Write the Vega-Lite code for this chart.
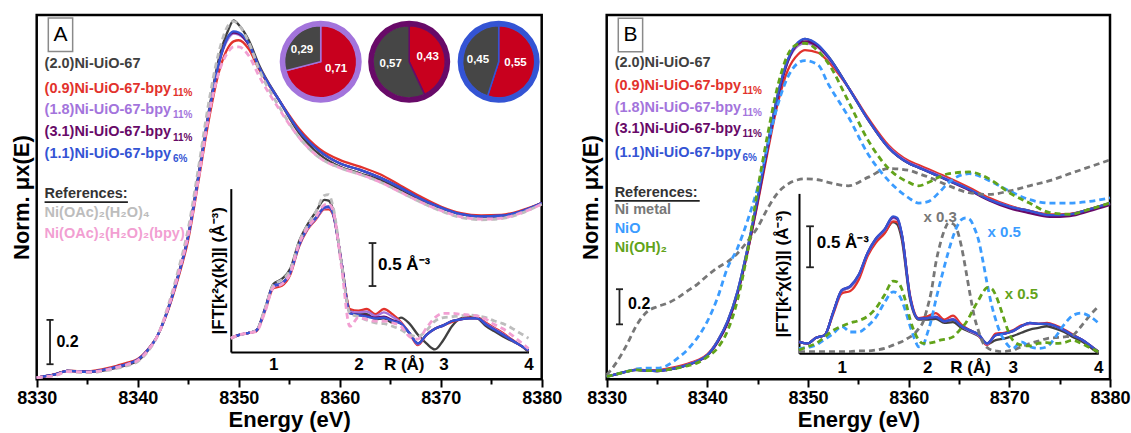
{
"$schema":"https://vega.github.io/schema/vega-lite/v6.json",
"width":1131,"height":433,"autosize":"none","padding":0,
"config":{"view":{"stroke":null},"font":"Liberation Sans","text":{"font":"Liberation Sans"}},
"datasets":{
"frameA":[{"x1":8330,"x2":8380,"y1":0,"y2":1.644}],
"frameB":[{"x1":8330,"x2":8380,"y1":0,"y2":2.1085}],
"boxA":[{"x1":8331.15,"x2":8333.56,"y1":1.479,"y2":1.63,"t":"A","xc":8332.35,"yc":1.555}],
"boxB":[{"x1":8331.15,"x2":8333.57,"y1":1.8953,"y2":2.0895,"t":"B","xc":8332.36,"yc":1.992}],
"mainA":[
{"E":8330,"k":0.008,"r":0.008,"lp":0.008,"dp":0.008,"b":0.008,"g":0.008,"p":0.008},
{"E":8331,"k":0.015,"r":0.015,"lp":0.015,"dp":0.015,"b":0.015,"g":0.012,"p":0.012},
{"E":8332,"k":0.025,"r":0.026,"lp":0.025,"dp":0.025,"b":0.025,"g":0.02,"p":0.02},
{"E":8333,"k":0.038,"r":0.038,"lp":0.038,"dp":0.038,"b":0.038,"g":0.035,"p":0.035},
{"E":8334,"k":0.036,"r":0.037,"lp":0.036,"dp":0.036,"b":0.036,"g":0.032,"p":0.034},
{"E":8335,"k":0.033,"r":0.036,"lp":0.034,"dp":0.034,"b":0.034,"g":0.03,"p":0.032},
{"E":8336,"k":0.036,"r":0.041,"lp":0.038,"dp":0.038,"b":0.038,"g":0.033,"p":0.036},
{"E":8337,"k":0.043,"r":0.05,"lp":0.046,"dp":0.046,"b":0.046,"g":0.04,"p":0.044},
{"E":8338,"k":0.053,"r":0.062,"lp":0.057,"dp":0.057,"b":0.057,"g":0.05,"p":0.055},
{"E":8339,"k":0.065,"r":0.075,"lp":0.07,"dp":0.07,"b":0.07,"g":0.062,"p":0.068},
{"E":8340,"k":0.083,"r":0.092,"lp":0.088,"dp":0.088,"b":0.088,"g":0.08,"p":0.085},
{"E":8341,"k":0.13,"r":0.135,"lp":0.132,"dp":0.132,"b":0.132,"g":0.125,"p":0.13},
{"E":8342,"k":0.2,"r":0.2,"lp":0.2,"dp":0.2,"b":0.2,"g":0.2,"p":0.2},
{"E":8343,"k":0.32,"r":0.31,"lp":0.315,"dp":0.315,"b":0.315,"g":0.33,"p":0.32},
{"E":8344,"k":0.47,"r":0.455,"lp":0.465,"dp":0.465,"b":0.465,"g":0.49,"p":0.47},
{"E":8345,"k":0.65,"r":0.63,"lp":0.645,"dp":0.645,"b":0.645,"g":0.68,"p":0.65},
{"E":8346,"k":0.92,"r":0.89,"lp":0.91,"dp":0.91,"b":0.91,"g":0.95,"p":0.9},
{"E":8347,"k":1.2,"r":1.16,"lp":1.19,"dp":1.19,"b":1.19,"g":1.24,"p":1.18},
{"E":8348,"k":1.44,"r":1.38,"lp":1.42,"dp":1.42,"b":1.42,"g":1.47,"p":1.38},
{"E":8349,"k":1.58,"r":1.5,"lp":1.54,"dp":1.55,"b":1.55,"g":1.6,"p":1.48},
{"E":8349.5,"k":1.62,"r":1.525,"lp":1.56,"dp":1.565,"b":1.57,"g":1.615,"p":1.5},
{"E":8350,"k":1.6,"r":1.53,"lp":1.555,"dp":1.56,"b":1.565,"g":1.6,"p":1.5},
{"E":8351,"k":1.53,"r":1.49,"lp":1.51,"dp":1.51,"b":1.515,"g":1.52,"p":1.46},
{"E":8352,"k":1.42,"r":1.4,"lp":1.41,"dp":1.41,"b":1.41,"g":1.4,"p":1.37},
{"E":8354,"k":1.26,"r":1.26,"lp":1.26,"dp":1.26,"b":1.26,"g":1.23,"p":1.22},
{"E":8356,"k":1.11,"r":1.13,"lp":1.12,"dp":1.12,"b":1.12,"g":1.09,"p":1.09},
{"E":8358,"k":1.015,"r":1.04,"lp":1.03,"dp":1.03,"b":1.03,"g":1.0,"p":1.0},
{"E":8360,"k":0.96,"r":0.99,"lp":0.975,"dp":0.975,"b":0.975,"g":0.955,"p":0.955},
{"E":8362,"k":0.93,"r":0.96,"lp":0.945,"dp":0.945,"b":0.945,"g":0.925,"p":0.925},
{"E":8364,"k":0.9,"r":0.925,"lp":0.91,"dp":0.91,"b":0.91,"g":0.89,"p":0.89},
{"E":8366,"k":0.856,"r":0.875,"lp":0.865,"dp":0.865,"b":0.865,"g":0.845,"p":0.845},
{"E":8368,"k":0.81,"r":0.825,"lp":0.815,"dp":0.815,"b":0.815,"g":0.8,"p":0.8},
{"E":8370,"k":0.773,"r":0.78,"lp":0.775,"dp":0.775,"b":0.775,"g":0.76,"p":0.762},
{"E":8372,"k":0.745,"r":0.75,"lp":0.745,"dp":0.745,"b":0.745,"g":0.73,"p":0.733},
{"E":8374,"k":0.735,"r":0.74,"lp":0.735,"dp":0.735,"b":0.735,"g":0.72,"p":0.723},
{"E":8376,"k":0.738,"r":0.742,"lp":0.738,"dp":0.738,"b":0.738,"g":0.725,"p":0.727},
{"E":8378,"k":0.758,"r":0.762,"lp":0.758,"dp":0.758,"b":0.758,"g":0.75,"p":0.752},
{"E":8380,"k":0.795,"r":0.795,"lp":0.795,"dp":0.795,"b":0.795,"g":0.79,"p":0.79}
],
"insA":[
{"R":0.5,"k":0.16,"r":0.16,"lp":0.16,"dp":0.16,"b":0.16,"g":0.16,"p":0.16},
{"R":0.6,"k":0.2,"r":0.2,"lp":0.2,"dp":0.2,"b":0.2,"g":0.2,"p":0.2},
{"R":0.7,"k":0.22,"r":0.22,"lp":0.22,"dp":0.22,"b":0.22,"g":0.22,"p":0.22},
{"R":0.8,"k":0.25,"r":0.24,"lp":0.245,"dp":0.25,"b":0.25,"g":0.25,"p":0.24},
{"R":0.9,"k":0.5,"r":0.47,"lp":0.48,"dp":0.49,"b":0.49,"g":0.5,"p":0.46},
{"R":1.0,"k":0.79,"r":0.74,"lp":0.76,"dp":0.77,"b":0.77,"g":0.78,"p":0.75},
{"R":1.1,"k":0.85,"r":0.77,"lp":0.79,"dp":0.8,"b":0.8,"g":0.84,"p":0.79},
{"R":1.2,"k":0.97,"r":0.9,"lp":0.92,"dp":0.93,"b":0.93,"g":0.96,"p":0.92},
{"R":1.3,"k":1.28,"r":1.22,"lp":1.23,"dp":1.24,"b":1.24,"g":1.27,"p":1.25},
{"R":1.4,"k":1.48,"r":1.42,"lp":1.43,"dp":1.44,"b":1.44,"g":1.47,"p":1.44},
{"R":1.5,"k":1.63,"r":1.54,"lp":1.55,"dp":1.56,"b":1.56,"g":1.63,"p":1.57},
{"R":1.6,"k":1.77,"r":1.66,"lp":1.67,"dp":1.68,"b":1.68,"g":1.82,"p":1.71},
{"R":1.65,"k":1.76,"r":1.66,"lp":1.68,"dp":1.69,"b":1.69,"g":1.83,"p":1.72},
{"R":1.7,"k":1.66,"r":1.6,"lp":1.61,"dp":1.62,"b":1.62,"g":1.7,"p":1.65},
{"R":1.8,"k":1.05,"r":1.05,"lp":1.05,"dp":1.05,"b":1.05,"g":1.05,"p":1.0},
{"R":1.9,"k":0.48,"r":0.5,"lp":0.47,"dp":0.45,"b":0.45,"g":0.45,"p":0.3},
{"R":2.0,"k":0.44,"r":0.48,"lp":0.46,"dp":0.43,"b":0.43,"g":0.41,"p":0.4},
{"R":2.1,"k":0.44,"r":0.5,"lp":0.47,"dp":0.42,"b":0.41,"g":0.37,"p":0.38},
{"R":2.2,"k":0.38,"r":0.44,"lp":0.42,"dp":0.4,"b":0.39,"g":0.34,"p":0.36},
{"R":2.3,"k":0.39,"r":0.5,"lp":0.46,"dp":0.41,"b":0.4,"g":0.33,"p":0.36},
{"R":2.4,"k":0.34,"r":0.44,"lp":0.41,"dp":0.37,"b":0.36,"g":0.3,"p":0.34},
{"R":2.5,"k":0.4,"r":0.35,"lp":0.34,"dp":0.33,"b":0.33,"g":0.26,"p":0.3},
{"R":2.6,"k":0.33,"r":0.22,"lp":0.22,"dp":0.22,"b":0.22,"g":0.2,"p":0.18},
{"R":2.7,"k":0.2,"r":0.08,"lp":0.09,"dp":0.1,"b":0.1,"g":0.18,"p":0.15},
{"R":2.8,"k":0.1,"r":0.2,"lp":0.2,"dp":0.2,"b":0.2,"g":0.25,"p":0.28},
{"R":2.9,"k":0.03,"r":0.27,"lp":0.27,"dp":0.27,"b":0.27,"g":0.36,"p":0.4},
{"R":3.0,"k":0.14,"r":0.31,"lp":0.31,"dp":0.31,"b":0.31,"g":0.4,"p":0.45},
{"R":3.1,"k":0.3,"r":0.35,"lp":0.36,"dp":0.36,"b":0.36,"g":0.41,"p":0.45},
{"R":3.2,"k":0.39,"r":0.38,"lp":0.38,"dp":0.38,"b":0.38,"g":0.42,"p":0.44},
{"R":3.3,"k":0.41,"r":0.4,"lp":0.39,"dp":0.39,"b":0.39,"g":0.43,"p":0.43},
{"R":3.4,"k":0.39,"r":0.4,"lp":0.39,"dp":0.39,"b":0.39,"g":0.42,"p":0.42},
{"R":3.5,"k":0.3,"r":0.34,"lp":0.33,"dp":0.32,"b":0.32,"g":0.4,"p":0.38},
{"R":3.6,"k":0.24,"r":0.28,"lp":0.27,"dp":0.26,"b":0.26,"g":0.36,"p":0.32},
{"R":3.7,"k":0.18,"r":0.22,"lp":0.21,"dp":0.2,"b":0.2,"g":0.33,"p":0.27},
{"R":3.8,"k":0.13,"r":0.15,"lp":0.14,"dp":0.14,"b":0.14,"g":0.28,"p":0.2},
{"R":3.9,"k":0.08,"r":0.08,"lp":0.08,"dp":0.08,"b":0.08,"g":0.22,"p":0.12},
{"R":4.0,"k":0.0,"r":0.02,"lp":0.02,"dp":0.02,"b":0.02,"g":0.16,"p":0.04}
],
"mainB":[
{"E":8330,"k":0.016,"r":0.016,"lp":0.016,"dp":0.016,"b":0.016,"m":0.025,"n":0.016,"o":0.016},
{"E":8331,"k":0.03,"r":0.03,"lp":0.03,"dp":0.03,"b":0.03,"m":0.1,"n":0.03,"o":0.03},
{"E":8332,"k":0.045,"r":0.045,"lp":0.045,"dp":0.045,"b":0.045,"m":0.2,"n":0.045,"o":0.045},
{"E":8333,"k":0.054,"r":0.056,"lp":0.054,"dp":0.054,"b":0.054,"m":0.316,"n":0.06,"o":0.054},
{"E":8334,"k":0.05,"r":0.053,"lp":0.05,"dp":0.05,"b":0.05,"m":0.39,"n":0.064,"o":0.05},
{"E":8335,"k":0.048,"r":0.053,"lp":0.049,"dp":0.048,"b":0.048,"m":0.42,"n":0.064,"o":0.05},
{"E":8336,"k":0.055,"r":0.062,"lp":0.056,"dp":0.055,"b":0.055,"m":0.44,"n":0.08,"o":0.055},
{"E":8337,"k":0.066,"r":0.074,"lp":0.067,"dp":0.066,"b":0.066,"m":0.47,"n":0.12,"o":0.064},
{"E":8338,"k":0.083,"r":0.09,"lp":0.084,"dp":0.082,"b":0.083,"m":0.51,"n":0.17,"o":0.078},
{"E":8339,"k":0.105,"r":0.11,"lp":0.105,"dp":0.103,"b":0.105,"m":0.55,"n":0.24,"o":0.095},
{"E":8340,"k":0.14,"r":0.145,"lp":0.14,"dp":0.137,"b":0.14,"m":0.6,"n":0.335,"o":0.13},
{"E":8341,"k":0.22,"r":0.22,"lp":0.218,"dp":0.212,"b":0.22,"m":0.645,"n":0.47,"o":0.18},
{"E":8342,"k":0.335,"r":0.33,"lp":0.33,"dp":0.322,"b":0.335,"m":0.68,"n":0.645,"o":0.28},
{"E":8343,"k":0.51,"r":0.5,"lp":0.505,"dp":0.495,"b":0.51,"m":0.73,"n":0.76,"o":0.46},
{"E":8344,"k":0.76,"r":0.74,"lp":0.755,"dp":0.74,"b":0.76,"m":0.8,"n":0.92,"o":0.74},
{"E":8345,"k":1.05,"r":1.02,"lp":1.04,"dp":1.03,"b":1.05,"m":0.88,"n":1.11,"o":1.1},
{"E":8346,"k":1.36,"r":1.32,"lp":1.35,"dp":1.34,"b":1.36,"m":0.99,"n":1.36,"o":1.42},
{"E":8347,"k":1.65,"r":1.6,"lp":1.64,"dp":1.63,"b":1.65,"m":1.08,"n":1.59,"o":1.7},
{"E":8348,"k":1.85,"r":1.79,"lp":1.84,"dp":1.84,"b":1.85,"m":1.13,"n":1.75,"o":1.88},
{"E":8349,"k":1.94,"r":1.88,"lp":1.93,"dp":1.94,"b":1.95,"m":1.155,"n":1.83,"o":1.94},
{"E":8349.7,"k":1.97,"r":1.905,"lp":1.945,"dp":1.955,"b":1.97,"m":1.16,"n":1.845,"o":1.945},
{"E":8351,"k":1.93,"r":1.89,"lp":1.92,"dp":1.925,"b":1.935,"m":1.155,"n":1.82,"o":1.9},
{"E":8352,"k":1.87,"r":1.84,"lp":1.86,"dp":1.865,"b":1.87,"m":1.14,"n":1.71,"o":1.83},
{"E":8354,"k":1.69,"r":1.69,"lp":1.69,"dp":1.69,"b":1.69,"m":1.12,"n":1.52,"o":1.61},
{"E":8356,"k":1.5,"r":1.51,"lp":1.5,"dp":1.5,"b":1.5,"m":1.17,"n":1.3,"o":1.38},
{"E":8358,"k":1.34,"r":1.355,"lp":1.345,"dp":1.34,"b":1.34,"m":1.22,"n":1.15,"o":1.22},
{"E":8360,"k":1.25,"r":1.265,"lp":1.255,"dp":1.25,"b":1.25,"m":1.21,"n":1.05,"o":1.14},
{"E":8361,"k":1.225,"r":1.24,"lp":1.23,"dp":1.225,"b":1.225,"m":1.19,"n":1.02,"o":1.12},
{"E":8362,"k":1.2,"r":1.215,"lp":1.205,"dp":1.2,"b":1.2,"m":1.17,"n":1.03,"o":1.14},
{"E":8363,"k":1.175,"r":1.19,"lp":1.18,"dp":1.175,"b":1.175,"m":1.145,"n":1.08,"o":1.17},
{"E":8364,"k":1.15,"r":1.165,"lp":1.155,"dp":1.148,"b":1.15,"m":1.12,"n":1.14,"o":1.19},
{"E":8366,"k":1.1,"r":1.11,"lp":1.1,"dp":1.095,"b":1.1,"m":1.08,"n":1.19,"o":1.2},
{"E":8368,"k":1.04,"r":1.05,"lp":1.04,"dp":1.035,"b":1.04,"m":1.07,"n":1.15,"o":1.16},
{"E":8370,"k":1.0,"r":1.005,"lp":1.0,"dp":0.99,"b":1.0,"m":1.09,"n":1.09,"o":1.08},
{"E":8372,"k":0.975,"r":0.975,"lp":0.972,"dp":0.962,"b":0.975,"m":1.12,"n":1.04,"o":1.02},
{"E":8374,"k":0.95,"r":0.955,"lp":0.948,"dp":0.94,"b":0.95,"m":1.15,"n":1.02,"o":0.965},
{"E":8376,"k":0.955,"r":0.958,"lp":0.952,"dp":0.945,"b":0.955,"m":1.19,"n":1.02,"o":0.955},
{"E":8378,"k":0.985,"r":0.985,"lp":0.98,"dp":0.975,"b":0.985,"m":1.23,"n":1.03,"o":0.985},
{"E":8380,"k":1.02,"r":1.02,"lp":1.015,"dp":1.01,"b":1.02,"m":1.27,"n":1.05,"o":1.02}
],
"insBs":[
{"R":0.5,"k":0.14,"r":0.14,"lp":0.14,"dp":0.14,"b":0.14},
{"R":0.6,"k":0.12,"r":0.12,"lp":0.12,"dp":0.12,"b":0.12},
{"R":0.7,"k":0.19,"r":0.19,"lp":0.19,"dp":0.19,"b":0.19},
{"R":0.8,"k":0.22,"r":0.22,"lp":0.22,"dp":0.22,"b":0.22},
{"R":0.9,"k":0.5,"r":0.48,"lp":0.5,"dp":0.5,"b":0.5},
{"R":1.0,"k":0.76,"r":0.73,"lp":0.76,"dp":0.77,"b":0.77},
{"R":1.1,"k":0.81,"r":0.76,"lp":0.81,"dp":0.82,"b":0.82},
{"R":1.2,"k":0.94,"r":0.9,"lp":0.95,"dp":0.96,"b":0.96},
{"R":1.3,"k":1.2,"r":1.18,"lp":1.21,"dp":1.22,"b":1.22},
{"R":1.4,"k":1.37,"r":1.35,"lp":1.39,"dp":1.4,"b":1.4},
{"R":1.5,"k":1.47,"r":1.46,"lp":1.5,"dp":1.51,"b":1.51},
{"R":1.6,"k":1.6,"r":1.61,"lp":1.65,"dp":1.66,"b":1.67},
{"R":1.65,"k":1.57,"r":1.6,"lp":1.63,"dp":1.64,"b":1.65},
{"R":1.7,"k":1.4,"r":1.45,"lp":1.46,"dp":1.46,"b":1.47},
{"R":1.8,"k":0.65,"r":0.7,"lp":0.68,"dp":0.68,"b":0.68},
{"R":1.9,"k":0.41,"r":0.43,"lp":0.42,"dp":0.42,"b":0.42},
{"R":2.0,"k":0.41,"r":0.45,"lp":0.43,"dp":0.43,"b":0.43},
{"R":2.1,"k":0.42,"r":0.49,"lp":0.45,"dp":0.44,"b":0.44},
{"R":2.2,"k":0.37,"r":0.41,"lp":0.39,"dp":0.39,"b":0.39},
{"R":2.3,"k":0.38,"r":0.46,"lp":0.42,"dp":0.41,"b":0.41},
{"R":2.4,"k":0.31,"r":0.35,"lp":0.33,"dp":0.33,"b":0.33},
{"R":2.5,"k":0.26,"r":0.28,"lp":0.27,"dp":0.28,"b":0.28},
{"R":2.6,"k":0.21,"r":0.22,"lp":0.22,"dp":0.23,"b":0.23},
{"R":2.7,"k":0.11,"r":0.1,"lp":0.11,"dp":0.12,"b":0.12},
{"R":2.8,"k":0.16,"r":0.24,"lp":0.22,"dp":0.22,"b":0.22},
{"R":2.9,"k":0.18,"r":0.25,"lp":0.24,"dp":0.24,"b":0.24},
{"R":3.0,"k":0.21,"r":0.28,"lp":0.27,"dp":0.27,"b":0.27},
{"R":3.1,"k":0.25,"r":0.34,"lp":0.33,"dp":0.33,"b":0.33},
{"R":3.2,"k":0.29,"r":0.36,"lp":0.36,"dp":0.37,"b":0.37},
{"R":3.3,"k":0.31,"r":0.36,"lp":0.36,"dp":0.36,"b":0.36},
{"R":3.4,"k":0.33,"r":0.37,"lp":0.36,"dp":0.36,"b":0.36},
{"R":3.5,"k":0.3,"r":0.34,"lp":0.33,"dp":0.33,"b":0.33},
{"R":3.6,"k":0.26,"r":0.29,"lp":0.28,"dp":0.28,"b":0.28},
{"R":3.7,"k":0.2,"r":0.23,"lp":0.22,"dp":0.22,"b":0.22},
{"R":3.8,"k":0.15,"r":0.17,"lp":0.17,"dp":0.17,"b":0.17},
{"R":3.9,"k":0.08,"r":0.1,"lp":0.1,"dp":0.1,"b":0.1},
{"R":4.0,"k":0.0,"r":0.02,"lp":0.02,"dp":0.02,"b":0.02}
],
"insBr":[
{"R":0.5,"m":0.02,"n":0.06,"o":0.04},
{"R":0.6,"m":0.02,"n":0.07,"o":0.08},
{"R":0.7,"m":0.02,"n":0.1,"o":0.12},
{"R":0.8,"m":0.02,"n":0.17,"o":0.2},
{"R":0.9,"m":0.02,"n":0.24,"o":0.28},
{"R":1.0,"m":0.02,"n":0.33,"o":0.33},
{"R":1.1,"m":0.02,"n":0.26,"o":0.37},
{"R":1.2,"m":0.03,"n":0.26,"o":0.4},
{"R":1.3,"m":0.03,"n":0.33,"o":0.45},
{"R":1.4,"m":0.04,"n":0.44,"o":0.55},
{"R":1.5,"m":0.06,"n":0.62,"o":0.71},
{"R":1.6,"m":0.1,"n":0.75,"o":0.88},
{"R":1.65,"m":0.12,"n":0.73,"o":0.87},
{"R":1.7,"m":0.14,"n":0.65,"o":0.79},
{"R":1.75,"m":0.17,"n":0.5,"o":0.62},
{"R":1.8,"m":0.2,"n":0.33,"o":0.41},
{"R":1.85,"m":0.24,"n":0.18,"o":0.26},
{"R":1.9,"m":0.3,"n":0.08,"o":0.16},
{"R":1.95,"m":0.38,"n":0.1,"o":0.12},
{"R":2.0,"m":0.55,"n":0.24,"o":0.12},
{"R":2.05,"m":0.77,"n":0.42,"o":0.13},
{"R":2.1,"m":1.1,"n":0.65,"o":0.14},
{"R":2.15,"m":1.33,"n":0.86,"o":0.16},
{"R":2.2,"m":1.5,"n":1.06,"o":0.17},
{"R":2.25,"m":1.59,"n":1.25,"o":0.18},
{"R":2.3,"m":1.58,"n":1.42,"o":0.2},
{"R":2.35,"m":1.5,"n":1.55,"o":0.25},
{"R":2.4,"m":1.3,"n":1.63,"o":0.31},
{"R":2.45,"m":1.02,"n":1.65,"o":0.37},
{"R":2.5,"m":0.72,"n":1.63,"o":0.46},
{"R":2.55,"m":0.45,"n":1.53,"o":0.56},
{"R":2.6,"m":0.27,"n":1.38,"o":0.65},
{"R":2.65,"m":0.13,"n":1.13,"o":0.74},
{"R":2.7,"m":0.07,"n":0.85,"o":0.8},
{"R":2.75,"m":0.04,"n":0.6,"o":0.79},
{"R":2.8,"m":0.03,"n":0.41,"o":0.71},
{"R":2.85,"m":0.02,"n":0.26,"o":0.57},
{"R":2.9,"m":0.02,"n":0.16,"o":0.41},
{"R":2.95,"m":0.03,"n":0.09,"o":0.26},
{"R":3.0,"m":0.04,"n":0.06,"o":0.16},
{"R":3.1,"m":0.08,"n":0.14,"o":0.1},
{"R":3.2,"m":0.12,"n":0.08,"o":0.09},
{"R":3.3,"m":0.15,"n":0.06,"o":0.12},
{"R":3.4,"m":0.18,"n":0.08,"o":0.13},
{"R":3.5,"m":0.19,"n":0.2,"o":0.12},
{"R":3.6,"m":0.2,"n":0.35,"o":0.13},
{"R":3.7,"m":0.22,"n":0.46,"o":0.16},
{"R":3.8,"m":0.33,"n":0.49,"o":0.12},
{"R":3.9,"m":0.46,"n":0.45,"o":0.07},
{"R":4.0,"m":0.57,"n":0.37,"o":0.02}
],
"legA":[
{"x":8330.78,"y":1.423,"t":"(2.0)Ni-UiO-67","s":"k"},
{"x":8330.78,"y":1.312,"t":"(0.9)Ni-UiO-67-bpy","s":"r"},
{"x":8330.78,"y":1.214,"t":"(1.8)Ni-UiO-67-bpy","s":"lp"},
{"x":8330.78,"y":1.115,"t":"(3.1)Ni-UiO-67-bpy","s":"dp"},
{"x":8330.78,"y":1.017,"t":"(1.1)Ni-UiO-67-bpy","s":"b"},
{"x":8330.78,"y":0.836,"t":"References:","s":"ref"},
{"x":8330.78,"y":0.75,"t":"Ni(OAc)₂(H₂O)₄","s":"g"},
{"x":8330.78,"y":0.655,"t":"Ni(OAc)₂(H₂O)₂(bpy)","s":"p"}
],
"subA":[
{"x":8343.5,"y":1.291,"t":"11%","s":"r"},
{"x":8343.5,"y":1.191,"t":"11%","s":"lp"},
{"x":8343.5,"y":1.091,"t":"11%","s":"dp"},
{"x":8343.5,"y":0.995,"t":"6%","s":"b"}
],
"legB":[
{"x":8330.79,"y":1.83,"t":"(2.0)Ni-UiO-67","s":"k"},
{"x":8330.79,"y":1.696,"t":"(0.9)Ni-UiO-67-bpy","s":"r"},
{"x":8330.79,"y":1.568,"t":"(1.8)Ni-UiO-67-bpy","s":"lp"},
{"x":8330.79,"y":1.446,"t":"(3.1)Ni-UiO-67-bpy","s":"dp"},
{"x":8330.79,"y":1.312,"t":"(1.1)Ni-UiO-67-bpy","s":"b"},
{"x":8330.79,"y":1.08,"t":"References:","s":"ref"},
{"x":8330.79,"y":0.981,"t":"Ni metal","s":"m"},
{"x":8330.79,"y":0.87,"t":"NiO","s":"n"},
{"x":8330.79,"y":0.76,"t":"Ni(OH)₂","s":"o"}
],
"subB":[
{"x":8343.49,"y":1.667,"t":"11%","s":"r"},
{"x":8343.49,"y":1.539,"t":"11%","s":"lp"},
{"x":8343.49,"y":1.417,"t":"11%","s":"dp"},
{"x":8343.49,"y":1.283,"t":"6%","s":"b"}
],
"rulesA":[
{"x1":8331.32,"x2":8331.32,"y1":0.068,"y2":0.268},
{"x1":8330.97,"x2":8331.67,"y1":0.068,"y2":0.068},
{"x1":8330.97,"x2":8331.67,"y1":0.268,"y2":0.268},
{"x1":8330.78,"x2":8339.03,"y1":0.8,"y2":0.8}
],
"rulesB":[
{"x1":8331.27,"x2":8331.27,"y1":0.318,"y2":0.5215},
{"x1":8330.92,"x2":8331.62,"y1":0.318,"y2":0.318},
{"x1":8330.92,"x2":8331.62,"y1":0.5215,"y2":0.5215},
{"x1":8330.79,"x2":8339.24,"y1":1.0331,"y2":1.0331}
],
"barA":[{"x":8331.95,"y":0.168,"t":"0.2"}],
"barB":[{"x":8332.12,"y":0.434,"t":"0.2"}],
"ringA":[
{"c":8358.12,"cy":1.433,"s":"lp"},
{"c":8366.88,"cy":1.433,"s":"dp"},
{"c":8375.74,"cy":1.433,"s":"b"}
],
"sliceA":[
{"c":8358.12,"cy":1.433,"s":"lp","part":"bpy","t0":0,"t1":0.71},
{"c":8358.12,"cy":1.433,"s":"lp","part":"node","t0":0.71,"t1":1},
{"c":8366.88,"cy":1.433,"s":"dp","part":"bpy","t0":0,"t1":0.43},
{"c":8366.88,"cy":1.433,"s":"dp","part":"node","t0":0.43,"t1":1},
{"c":8375.74,"cy":1.433,"s":"b","part":"bpy","t0":0,"t1":0.55},
{"c":8375.74,"cy":1.433,"s":"b","part":"node","t0":0.55,"t1":1}
],
"pieTxt":[
{"x":8356.27,"y":1.486,"t":"0,29"},
{"x":8359.64,"y":1.4,"t":"0,71"},
{"x":8365.05,"y":1.423,"t":"0,57"},
{"x":8368.71,"y":1.455,"t":"0,43"},
{"x":8373.69,"y":1.441,"t":"0,45"},
{"x":8377.41,"y":1.427,"t":"0,55"}
],
"insRulesA":[
{"x1":2.166,"x2":2.166,"y1":0.767,"y2":1.267},
{"x1":2.121,"x2":2.211,"y1":0.767,"y2":0.767},
{"x1":2.121,"x2":2.211,"y1":1.267,"y2":1.267}
],
"insTxtA":[
{"x":2.23,"y":1.012,"t":"0.5 Å⁻³"},
{"x":2.3,"y":-0.151,"t":"R (Å)"}
],
"insRulesB":[
{"x1":0.629,"x2":0.629,"y1":1.049,"y2":1.549},
{"x1":0.584,"x2":0.674,"y1":1.049,"y2":1.049},
{"x1":0.584,"x2":0.674,"y1":1.549,"y2":1.549}
],
"insTxtB":[
{"x":0.707,"y":1.34,"t":"0.5 Å⁻³"},
{"x":2.27,"y":-0.183,"t":"R (Å)"}
],
"multB":[
{"x":2.151,"y":1.662,"t":"x 0.3","s":"m"},
{"x":2.9,"y":1.479,"t":"x 0.5","s":"n"},
{"x":3.1,"y":0.728,"t":"x 0.5","s":"o"}
]
},
"resolve":{"scale":{"x":"independent","y":"independent"},"axis":{"x":"independent","y":"independent"}},
"layer":[
 {"data":{"name":"frameA"},"mark":{"type":"rect","fill":"transparent","stroke":"black","strokeWidth":2.5},
  "encoding":{
   "x":{"field":"x1","type":"quantitative","scale":{"domain":[8330,8380],"range":[36.7,541.7],"nice":false,"zero":false},
    "axis":{"orient":"bottom","offset":-54,"values":[8330,8340,8350,8360,8370,8380],"format":"d","labelFlush":false,"tickSize":8,"tickWidth":2,"tickColor":"black","domain":false,"grid":false,"labelFontSize":18,"labelFontWeight":"bold","labelColor":"black","labelPadding":2,"title":"Energy (eV)","titleFontSize":22,"titleFontWeight":"bold","titleColor":"black","titlePadding":2}},
   "x2":{"field":"x2"},
   "y":{"field":"y1","type":"quantitative","scale":{"domain":[0,1.644],"range":[379.3,15],"nice":false,"zero":false},
    "axis":{"orient":"left","offset":-36.7,"domain":false,"ticks":false,"labels":false,"grid":false,"title":"Norm. μx(E)","titleFontSize":22,"titleFontWeight":"bold","titleColor":"black","titlePadding":3}},
   "y2":{"field":"y2"}}},
 {"data":{"name":"mainA"},"transform":[{"fold":["k","r","lp","dp","b"],"as":["s","v"]}],
  "mark":{"type":"line","strokeWidth":2.3,"interpolate":"monotone"},
  "encoding":{"x":{"field":"E","type":"quantitative","axis":null,"scale":{"domain":[8330,8380],"range":[36.7,541.7],"nice":false,"zero":false}},"y":{"field":"v","type":"quantitative","axis":null,"scale":{"domain":[0,1.644],"range":[379.3,15],"nice":false,"zero":false}},
   "color":{"field":"s","type":"nominal","legend":null,"scale":{"domain":["k","r","lp","dp","b","g","p","m","n","o","ref"],"range":["#404040","#e2322c","#a374dc","#680a68","#3454d4","#bdbdbd","#f29fd2","#777777","#3b9cff","#62a31a","#333333"]}}}},
 {"data":{"name":"mainA"},"transform":[{"fold":["g","p"],"as":["s","v"]}],
  "mark":{"type":"line","strokeWidth":2.8,"strokeDash":[6,4],"interpolate":"monotone"},
  "encoding":{"x":{"field":"E","type":"quantitative","axis":null,"scale":{"domain":[8330,8380],"range":[36.7,541.7],"nice":false,"zero":false}},"y":{"field":"v","type":"quantitative","axis":null,"scale":{"domain":[0,1.644],"range":[379.3,15],"nice":false,"zero":false}},
   "color":{"field":"s","type":"nominal","legend":null}}},
 {"data":{"name":"legA"},"mark":{"type":"text","align":"left","baseline":"middle","fontSize":14.5,"fontWeight":"bold"},
  "encoding":{"x":{"field":"x","type":"quantitative","axis":null,"scale":{"domain":[8330,8380],"range":[36.7,541.7],"nice":false,"zero":false}},"y":{"field":"y","type":"quantitative","axis":null,"scale":{"domain":[0,1.644],"range":[379.3,15],"nice":false,"zero":false}},"text":{"field":"t"},"color":{"field":"s","type":"nominal","legend":null}}},
 {"data":{"name":"subA"},"mark":{"type":"text","align":"left","baseline":"middle","fontSize":10,"fontWeight":"bold"},
  "encoding":{"x":{"field":"x","type":"quantitative","axis":null,"scale":{"domain":[8330,8380],"range":[36.7,541.7],"nice":false,"zero":false}},"y":{"field":"y","type":"quantitative","axis":null,"scale":{"domain":[0,1.644],"range":[379.3,15],"nice":false,"zero":false}},"text":{"field":"t"},"color":{"field":"s","type":"nominal","legend":null}}},
 {"data":{"name":"rulesA"},"mark":{"type":"rule","color":"#222222","strokeWidth":1.8},
  "encoding":{"x":{"field":"x1","type":"quantitative","scale":{"domain":[8330,8380],"range":[36.7,541.7],"nice":false,"zero":false},
    "axis":{"orient":"bottom","offset":-54,"values":[8335,8345,8355,8365,8375],"tickSize":5,"tickWidth":2,"tickColor":"black","domain":false,"grid":false,"labels":false,"title":null}},
   "x2":{"field":"x2"},"y":{"field":"y1","type":"quantitative","axis":null,"scale":{"domain":[0,1.644],"range":[379.3,15],"nice":false,"zero":false}},"y2":{"field":"y2"}}},
 {"data":{"name":"barA"},"mark":{"type":"text","align":"left","baseline":"middle","fontSize":16,"fontWeight":"bold","color":"black"},
  "encoding":{"x":{"field":"x","type":"quantitative","axis":null,"scale":{"domain":[8330,8380],"range":[36.7,541.7],"nice":false,"zero":false}},"y":{"field":"y","type":"quantitative","axis":null,"scale":{"domain":[0,1.644],"range":[379.3,15],"nice":false,"zero":false}},"text":{"field":"t"}}},
 {"data":{"name":"boxA"},"mark":{"type":"rect","fill":"white","stroke":"#8a8a8a","strokeWidth":1.5},
  "encoding":{"x":{"field":"x1","type":"quantitative","axis":null,"scale":{"domain":[8330,8380],"range":[36.7,541.7],"nice":false,"zero":false}},"x2":{"field":"x2"},"y":{"field":"y1","type":"quantitative","axis":null,"scale":{"domain":[0,1.644],"range":[379.3,15],"nice":false,"zero":false}},"y2":{"field":"y2"}}},
 {"data":{"name":"boxA"},"mark":{"type":"text","align":"center","baseline":"middle","fontSize":21,"color":"black"},
  "encoding":{"x":{"field":"xc","type":"quantitative","axis":null,"scale":{"domain":[8330,8380],"range":[36.7,541.7],"nice":false,"zero":false}},"y":{"field":"yc","type":"quantitative","axis":null,"scale":{"domain":[0,1.644],"range":[379.3,15],"nice":false,"zero":false}},"text":{"field":"t"}}},
 {"data":{"name":"ringA"},"mark":{"type":"arc","radius":41,"radius2":36,"theta":0,"theta2":6.2832},
  "encoding":{"x":{"field":"c","type":"quantitative","axis":null,"scale":{"domain":[8330,8380],"range":[36.7,541.7],"nice":false,"zero":false}},"y":{"field":"cy","type":"quantitative","axis":null,"scale":{"domain":[0,1.644],"range":[379.3,15],"nice":false,"zero":false}},"color":{"field":"s","type":"nominal","legend":null}}},
 {"data":{"name":"sliceA"},"mark":{"type":"arc","radius":36,"strokeWidth":1.5},
  "encoding":{"x":{"field":"c","type":"quantitative","axis":null,"scale":{"domain":[8330,8380],"range":[36.7,541.7],"nice":false,"zero":false}},"y":{"field":"cy","type":"quantitative","axis":null,"scale":{"domain":[0,1.644],"range":[379.3,15],"nice":false,"zero":false}},
   "theta":{"field":"t0","type":"quantitative","scale":{"domain":[0,1],"range":[0,6.2832]},"stack":null},"theta2":{"field":"t1"},
   "fill":{"field":"part","type":"nominal","legend":null,"scale":{"domain":["bpy","node"],"range":["#c8001e","#464646"]}},
   "stroke":{"field":"s","type":"nominal","legend":null,"scale":{"domain":["lp","dp","b"],"range":["#a374dc","#680a68","#3454d4"]}}}},
 {"data":{"name":"pieTxt"},"mark":{"type":"text","align":"center","baseline":"middle","fontSize":11.5,"fontWeight":"bold","color":"white"},
  "encoding":{"x":{"field":"x","type":"quantitative","axis":null,"scale":{"domain":[8330,8380],"range":[36.7,541.7],"nice":false,"zero":false}},"y":{"field":"y","type":"quantitative","axis":null,"scale":{"domain":[0,1.644],"range":[379.3,15],"nice":false,"zero":false}},"text":{"field":"t"}}},

 {"data":{"name":"insA"},"transform":[{"fold":["k","r","lp","dp","b"],"as":["s","v"]}],
  "mark":{"type":"line","strokeWidth":2.3,"interpolate":"monotone"},
  "encoding":{
   "x":{"field":"R","type":"quantitative","scale":{"domain":[0.5,4],"range":[230.8,528.5],"nice":false,"zero":false},
    "axis":{"orient":"bottom","offset":-81,"values":[1,2,3,4],"format":"d","labelFlush":false,"domain":true,"domainColor":"black","domainWidth":2,"ticks":false,"grid":false,"labelFontSize":17,"labelFontWeight":"bold","labelColor":"black","labelPadding":4,"title":null}},
   "y":{"field":"v","type":"quantitative","scale":{"domain":[0,1.9],"range":[352,188.6],"nice":false,"zero":false},
    "axis":{"orient":"left","offset":-230.8,"domain":true,"domainColor":"black","domainWidth":2,"ticks":false,"labels":false,"grid":false,"title":"|FT[k²χ(k)]| (Å⁻³)","titleFontSize":17,"titleFontWeight":"bold","titleColor":"black","titlePadding":3}},
   "color":{"field":"s","type":"nominal","legend":null}}},
 {"data":{"name":"insA"},"transform":[{"fold":["g","p"],"as":["s","v"]}],
  "mark":{"type":"line","strokeWidth":2.8,"strokeDash":[6,4],"interpolate":"monotone"},
  "encoding":{"x":{"field":"R","type":"quantitative","axis":null,"scale":{"domain":[0.5,4],"range":[230.8,528.5],"nice":false,"zero":false}},"y":{"field":"v","type":"quantitative","axis":null,"scale":{"domain":[0,1.9],"range":[352,188.6],"nice":false,"zero":false}},"color":{"field":"s","type":"nominal","legend":null}}},
 {"data":{"name":"insRulesA"},"mark":{"type":"rule","color":"#222222","strokeWidth":1.8},
  "encoding":{"x":{"field":"x1","type":"quantitative","axis":null,"scale":{"domain":[0.5,4],"range":[230.8,528.5],"nice":false,"zero":false}},"x2":{"field":"x2"},"y":{"field":"y1","type":"quantitative","axis":null,"scale":{"domain":[0,1.9],"range":[352,188.6],"nice":false,"zero":false}},"y2":{"field":"y2"}}},
 {"data":{"name":"insTxtA"},"mark":{"type":"text","align":"left","baseline":"middle","fontSize":17,"fontWeight":"bold","color":"black"},
  "encoding":{"x":{"field":"x","type":"quantitative","axis":null,"scale":{"domain":[0.5,4],"range":[230.8,528.5],"nice":false,"zero":false}},"y":{"field":"y","type":"quantitative","axis":null,"scale":{"domain":[0,1.9],"range":[352,188.6],"nice":false,"zero":false}},"text":{"field":"t"}}},

 {"data":{"name":"frameB"},"mark":{"type":"rect","fill":"transparent","stroke":"black","strokeWidth":2.5},
  "encoding":{
   "x":{"field":"x1","type":"quantitative","scale":{"domain":[8330,8380],"range":[606.7,1110],"nice":false,"zero":false},
    "axis":{"orient":"bottom","offset":-54,"values":[8330,8340,8350,8360,8370,8380],"format":"d","labelFlush":false,"tickSize":8,"tickWidth":2,"tickColor":"black","domain":false,"grid":false,"labelFontSize":18,"labelFontWeight":"bold","labelColor":"black","labelPadding":2,"title":"Energy (eV)","titleFontSize":22,"titleFontWeight":"bold","titleColor":"black","titlePadding":2}},
   "x2":{"field":"x2"},
   "y":{"field":"y1","type":"quantitative","scale":{"domain":[0,2.1085],"range":[379.3,15],"nice":false,"zero":false},
    "axis":{"orient":"left","offset":-606.7,"domain":false,"ticks":false,"labels":false,"grid":false,"title":"Norm. μx(E)","titleFontSize":22,"titleFontWeight":"bold","titleColor":"black","titlePadding":4}},
   "y2":{"field":"y2"}}},
 {"data":{"name":"mainB"},"transform":[{"fold":["k","r","lp","dp","b"],"as":["s","v"]}],
  "mark":{"type":"line","strokeWidth":2.3,"interpolate":"monotone"},
  "encoding":{"x":{"field":"E","type":"quantitative","axis":null,"scale":{"domain":[8330,8380],"range":[606.7,1110],"nice":false,"zero":false}},"y":{"field":"v","type":"quantitative","axis":null,"scale":{"domain":[0,2.1085],"range":[379.3,15],"nice":false,"zero":false}},"color":{"field":"s","type":"nominal","legend":null}}},
 {"data":{"name":"mainB"},"transform":[{"fold":["m","n","o"],"as":["s","v"]}],
  "mark":{"type":"line","strokeWidth":2.8,"strokeDash":[6,4],"interpolate":"monotone"},
  "encoding":{"x":{"field":"E","type":"quantitative","axis":null,"scale":{"domain":[8330,8380],"range":[606.7,1110],"nice":false,"zero":false}},"y":{"field":"v","type":"quantitative","axis":null,"scale":{"domain":[0,2.1085],"range":[379.3,15],"nice":false,"zero":false}},"color":{"field":"s","type":"nominal","legend":null}}},
 {"data":{"name":"legB"},"mark":{"type":"text","align":"left","baseline":"middle","fontSize":14.5,"fontWeight":"bold"},
  "encoding":{"x":{"field":"x","type":"quantitative","axis":null,"scale":{"domain":[8330,8380],"range":[606.7,1110],"nice":false,"zero":false}},"y":{"field":"y","type":"quantitative","axis":null,"scale":{"domain":[0,2.1085],"range":[379.3,15],"nice":false,"zero":false}},"text":{"field":"t"},"color":{"field":"s","type":"nominal","legend":null}}},
 {"data":{"name":"subB"},"mark":{"type":"text","align":"left","baseline":"middle","fontSize":10,"fontWeight":"bold"},
  "encoding":{"x":{"field":"x","type":"quantitative","axis":null,"scale":{"domain":[8330,8380],"range":[606.7,1110],"nice":false,"zero":false}},"y":{"field":"y","type":"quantitative","axis":null,"scale":{"domain":[0,2.1085],"range":[379.3,15],"nice":false,"zero":false}},"text":{"field":"t"},"color":{"field":"s","type":"nominal","legend":null}}},
 {"data":{"name":"rulesB"},"mark":{"type":"rule","color":"#222222","strokeWidth":1.8},
  "encoding":{"x":{"field":"x1","type":"quantitative","scale":{"domain":[8330,8380],"range":[606.7,1110],"nice":false,"zero":false},
    "axis":{"orient":"bottom","offset":-54,"values":[8335,8345,8355,8365,8375],"tickSize":5,"tickWidth":2,"tickColor":"black","domain":false,"grid":false,"labels":false,"title":null}},
   "x2":{"field":"x2"},"y":{"field":"y1","type":"quantitative","axis":null,"scale":{"domain":[0,2.1085],"range":[379.3,15],"nice":false,"zero":false}},"y2":{"field":"y2"}}},
 {"data":{"name":"barB"},"mark":{"type":"text","align":"left","baseline":"middle","fontSize":16,"fontWeight":"bold","color":"black"},
  "encoding":{"x":{"field":"x","type":"quantitative","axis":null,"scale":{"domain":[8330,8380],"range":[606.7,1110],"nice":false,"zero":false}},"y":{"field":"y","type":"quantitative","axis":null,"scale":{"domain":[0,2.1085],"range":[379.3,15],"nice":false,"zero":false}},"text":{"field":"t"}}},
 {"data":{"name":"boxB"},"mark":{"type":"rect","fill":"white","stroke":"#8a8a8a","strokeWidth":1.5},
  "encoding":{"x":{"field":"x1","type":"quantitative","axis":null,"scale":{"domain":[8330,8380],"range":[606.7,1110],"nice":false,"zero":false}},"x2":{"field":"x2"},"y":{"field":"y1","type":"quantitative","axis":null,"scale":{"domain":[0,2.1085],"range":[379.3,15],"nice":false,"zero":false}},"y2":{"field":"y2"}}},
 {"data":{"name":"boxB"},"mark":{"type":"text","align":"center","baseline":"middle","fontSize":21,"color":"black"},
  "encoding":{"x":{"field":"xc","type":"quantitative","axis":null,"scale":{"domain":[8330,8380],"range":[606.7,1110],"nice":false,"zero":false}},"y":{"field":"yc","type":"quantitative","axis":null,"scale":{"domain":[0,2.1085],"range":[379.3,15],"nice":false,"zero":false}},"text":{"field":"t"}}},

 {"data":{"name":"insBs"},"transform":[{"fold":["k","r","lp","dp","b"],"as":["s","v"]}],
  "mark":{"type":"line","strokeWidth":2.3,"interpolate":"monotone"},
  "encoding":{
   "x":{"field":"R","type":"quantitative","scale":{"domain":[0.5,4],"range":[799,1098.3],"nice":false,"zero":false},
    "axis":{"orient":"bottom","offset":-79.7,"values":[1,2,3,4],"format":"d","labelFlush":false,"domain":true,"domainColor":"black","domainWidth":2,"ticks":false,"grid":false,"labelFontSize":17,"labelFontWeight":"bold","labelColor":"black","labelPadding":6,"title":null}},
   "y":{"field":"v","type":"quantitative","scale":{"domain":[0,1.95],"range":[353.3,193.4],"nice":false,"zero":false},
    "axis":{"orient":"left","offset":-799,"domain":true,"domainColor":"black","domainWidth":2,"ticks":false,"labels":false,"grid":false,"title":"|FT[k²χ(k)]| (Å⁻³)","titleFontSize":17,"titleFontWeight":"bold","titleColor":"black","titlePadding":8}},
   "color":{"field":"s","type":"nominal","legend":null}}},
 {"data":{"name":"insBr"},"transform":[{"fold":["m","n","o"],"as":["s","v"]}],
  "mark":{"type":"line","strokeWidth":2.8,"strokeDash":[6,4],"interpolate":"monotone"},
  "encoding":{"x":{"field":"R","type":"quantitative","axis":null,"scale":{"domain":[0.5,4],"range":[799,1098.3],"nice":false,"zero":false}},"y":{"field":"v","type":"quantitative","axis":null,"scale":{"domain":[0,1.95],"range":[353.3,193.4],"nice":false,"zero":false}},"color":{"field":"s","type":"nominal","legend":null}}},
 {"data":{"name":"insRulesB"},"mark":{"type":"rule","color":"#222222","strokeWidth":1.8},
  "encoding":{"x":{"field":"x1","type":"quantitative","axis":null,"scale":{"domain":[0.5,4],"range":[799,1098.3],"nice":false,"zero":false}},"x2":{"field":"x2"},"y":{"field":"y1","type":"quantitative","axis":null,"scale":{"domain":[0,1.95],"range":[353.3,193.4],"nice":false,"zero":false}},"y2":{"field":"y2"}}},
 {"data":{"name":"insTxtB"},"mark":{"type":"text","align":"left","baseline":"middle","fontSize":17,"fontWeight":"bold","color":"black"},
  "encoding":{"x":{"field":"x","type":"quantitative","axis":null,"scale":{"domain":[0.5,4],"range":[799,1098.3],"nice":false,"zero":false}},"y":{"field":"y","type":"quantitative","axis":null,"scale":{"domain":[0,1.95],"range":[353.3,193.4],"nice":false,"zero":false}},"text":{"field":"t"}}},
 {"data":{"name":"multB"},"mark":{"type":"text","align":"center","baseline":"middle","fontSize":15,"fontWeight":"bold"},
  "encoding":{"x":{"field":"x","type":"quantitative","axis":null,"scale":{"domain":[0.5,4],"range":[799,1098.3],"nice":false,"zero":false}},"y":{"field":"y","type":"quantitative","axis":null,"scale":{"domain":[0,1.95],"range":[353.3,193.4],"nice":false,"zero":false}},"text":{"field":"t"},"color":{"field":"s","type":"nominal","legend":null}}}
]
}
